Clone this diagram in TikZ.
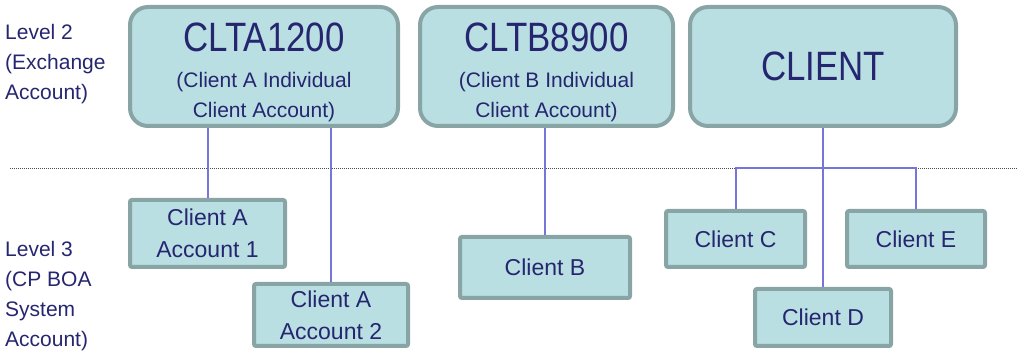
\documentclass[tikz,border=0pt]{standalone}
\usepackage{fontspec}
\setmainfont{Liberation Sans}
\newfontfamily\titlefont{Liberation Sans}[FakeStretch=0.85]
\usetikzlibrary{positioning}
\definecolor{boxfill}{RGB}{185,223,226}
\definecolor{boxline}{RGB}{137,164,165}
\definecolor{textnavy}{RGB}{38,38,112}
\definecolor{linkblue}{RGB}{118,118,216}
\newcommand{\bigline}{\titlefont\fontsize{41}{41}\selectfont\rule{0pt}{41pt}}
\newcommand{\subline}{\normalfont\fontsize{21}{30}\selectfont}

\begin{document}
\begin{tikzpicture}[x=1pt,y=1pt]
% Define styles
\tikzstyle{topbox} = [rectangle, rounded corners=18pt, minimum height=119pt, align=center, draw=boxline, line width=4pt, fill=boxfill, text=textnavy, inner sep=0pt, font=\subline]
\tikzstyle{subbox} = [rectangle, rounded corners=2pt, align=center, draw=boxline, line width=4pt, fill=boxfill, text=textnavy, inner sep=0pt, font=\fontsize{23}{32}\selectfont]
\tikzstyle{levellabel} = [anchor=base west, align=left, text=textnavy, inner sep=0pt, font=\fontsize{21}{30}\selectfont]
\tikzstyle{link} = [draw=linkblue, line width=2pt]
\tikzstyle{separator} = [draw=black!70, line width=1pt, densely dotted]

\useasboundingbox (0,0) rectangle (1017,352);

% Level separator
\coordinate (sepleft) at (10,183);
\coordinate (sepright) at (1017,183);
\draw [separator] (sepleft) -- (sepright);

% Draw nodes
\node (lvltwo) [levellabel] at (5,252) {Level 2\\(Exchange\\Account)};
\node (lvlthree) [levellabel] at (5,5) {Level 3\\(CP BOA\\System\\Account)};

\node (clta) [topbox, minimum width=268pt] at (264,285.5) {\bigline CLTA1200\\[6pt]\subline (Client A Individual\\\subline Client Account)};
\node (cltb) [topbox, minimum width=253pt] at (546.5,285.5) {\bigline CLTB8900\\[6pt]\subline (Client B Individual\\\subline Client Account)};
\node (client) [topbox, minimum width=266pt] at (823,285.5) {\titlefont\fontsize{41}{41}\selectfont CLIENT};

\node (acc1) [subbox, minimum width=155pt, minimum height=67pt] at (207.5,118.5) {Client A\\Account 1};
\node (acc2) [subbox, minimum width=154pt, minimum height=62pt] at (331,37) {Client A\\Account 2};
\node (clientb) [subbox, minimum width=170pt, minimum height=61pt] at (545,84.5) {Client B};
\node (clientc) [subbox, minimum width=139pt, minimum height=56pt] at (735.5,113) {Client C};
\node (cliente) [subbox, minimum width=138pt, minimum height=56pt] at (916,113) {Client E};
\node (clientd) [subbox, minimum width=136pt, minimum height=57pt] at (823,34.5) {Client D};

% Draw links
\draw [link] (clta.south -| acc1.north) -- (acc1.north);
\draw [link] (clta.south -| acc2.north) -- (acc2.north);
\draw [link] (cltb.south -| clientb.north) -- (clientb.north);
\draw [link] (client.south) -- (clientd.north);
\coordinate (bus) at (823,184);
\draw [link] (clientc.north) |- (bus) -| (cliente.north);
\end{tikzpicture}
\end{document}
